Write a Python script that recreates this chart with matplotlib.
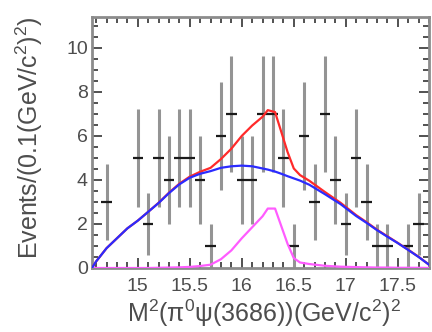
import numpy as np
import matplotlib
matplotlib.use('Agg')
import matplotlib.pyplot as plt
from matplotlib.ticker import MultipleLocator

plt.rcParams['font.family'] = ['Liberation Sans', 'DejaVu Sans']
plt.rcParams['mathtext.fontset'] = 'custom'
plt.rcParams['mathtext.rm'] = 'Liberation Sans'
plt.rcParams['mathtext.it'] = 'Liberation Sans:italic'

# data: events per 0.1 bin
bin_centers = np.round(np.arange(14.6, 17.75, 0.1), 2)
counts = [0, 3, 0, 0, 5, 2, 5, 4, 5, 5, 4, 1, 6, 7, 4, 4,
          7, 7, 5, 1, 6, 3, 7, 4, 2, 5, 3, 1, 1, 0, 1, 2]

# fit curves
curve_x = [14.56, 14.6, 14.7, 14.8, 14.9, 15.0, 15.1, 15.2, 15.3, 15.4, 15.5, 15.6,
           15.7, 15.8, 15.9, 16.0, 16.1, 16.2, 16.25, 16.32, 16.38, 16.44, 16.5,
           16.56, 16.65, 16.8, 16.95, 17.1, 17.2, 17.3, 17.4, 17.5, 17.6, 17.7, 17.8]
background = [0.0, 0.3, 0.9, 1.35, 1.8, 2.15, 2.55, 2.95, 3.4, 3.8, 4.1, 4.28,
              4.4, 4.55, 4.62, 4.65, 4.62, 4.52, 4.47, 4.38, 4.28, 4.17, 4.07,
              3.97, 3.78, 3.35, 2.9, 2.36, 2.05, 1.72, 1.42, 1.13, 0.82, 0.5, 0.15]
signal = [0, 0, 0, 0, 0, 0, 0, 0.01, 0.02, 0.03, 0.05, 0.09,
          0.15, 0.4, 0.8, 1.35, 1.85, 2.35, 2.7, 2.7, 1.9, 1.1, 0.45,
          0.25, 0.18, 0.1, 0.06, 0.04, 0.03, 0.02, 0.02, 0.01, 0.01, 0.01, 0.0]

counts = np.array(counts, dtype=float)
mask = counts > 0
total = np.array(background) + np.array(signal)

fig = plt.figure(figsize=(4.32, 3.32), dpi=100)
ax = fig.add_axes([92/432, 64/332, 337/432, 251/332])

# vertical error bars (gray) and bin-width marks (black)
ax.errorbar(bin_centers[mask], counts[mask], yerr=np.sqrt(counts[mask]), fmt='none',
            ecolor='0.58', elinewidth=2.2, capsize=0, zorder=2)
ax.errorbar(bin_centers[mask], counts[mask], xerr=0.05, fmt='none',
            ecolor='0.1', elinewidth=1.6, capsize=0, zorder=3)

ax.plot(curve_x, total, color='#ff2a2a', lw=1.6, zorder=4)
ax.plot(curve_x, background, color='#2b2bff', lw=1.6, zorder=5)
ax.plot(curve_x, signal, color='#ff5cff', lw=1.6, zorder=4)

ax.set_xlim(14.56, 17.8)
ax.set_ylim(0, 11.4)
ax.xaxis.set_major_locator(MultipleLocator(0.5))
ax.xaxis.set_minor_locator(MultipleLocator(0.1))
ax.yaxis.set_major_locator(MultipleLocator(2))
ax.yaxis.set_minor_locator(MultipleLocator(0.5))
ax.set_xticks([15, 15.5, 16, 16.5, 17, 17.5])
ax.set_xticklabels(['15', '15.5', '16', '16.5', '17', '17.5'])

ax.tick_params(which='both', direction='in', top=True, right=True, color='0.2',
               width=1.2, labelcolor='0.3', labelsize=14)
ax.tick_params(which='major', length=7)
ax.tick_params(which='minor', length=4)
ax.tick_params(axis='x', pad=7)
ax.tick_params(axis='y', pad=3)
for s in ax.spines.values():
    s.set_color('0.55')
    s.set_linewidth(2)

fig.text(264/432, 1 - 313/332, 'M$^{2}$(π$^{0}$ψ(3686))(GeV/c$^{2}$)$^{2}$',
         ha='center', va='center', fontsize=18, color='0.3')
fig.text(29/432, 1 - 138/332, 'Events/(0.1(GeV/c$^{2}$)$^{2}$)', rotation=90,
         ha='center', va='center', fontsize=18, color='0.3')

fig.savefig('out.png', dpi=100)
